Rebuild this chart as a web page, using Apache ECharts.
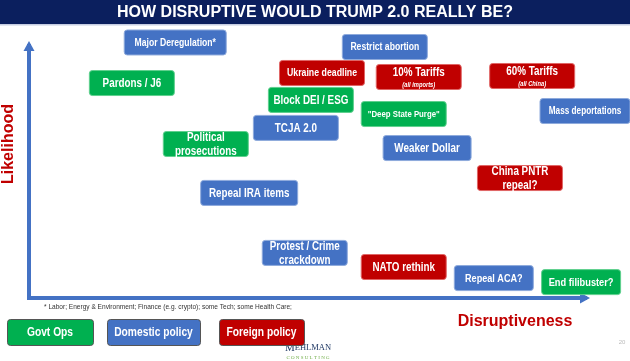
<!DOCTYPE html>
<html><head><meta charset="utf-8">
<script src="https://cdn.jsdelivr.net/npm/echarts@6/dist/echarts.min.js"></script>
<style>html,body{margin:0;padding:0;background:#fff}#c{width:630px;height:361px}</style>
</head><body><div id="c"></div>
<script>
// ---- data ----
const titleText = 'HOW DISRUPTIVE WOULD TRUMP 2.0 REALLY BE?';
const labels = ['Major Deregulation*','Pardons / J6','Ukraine deadline','Block DEI / ESG','TCJA 2.0','Political\nprosecutions','Restrict abortion','10% Tariffs','60% Tariffs','"Deep State Purge"','Mass deportations','Weaker Dollar','China PNTR\nrepeal?','Repeal IRA items','Protest / Crime\ncrackdown','NATO rethink','Repeal ACA?','End filibuster?'];
const notes = ['','','','','','','','(all imports)','(all China)','','','','','','','','',''];
const disruptiveness = [26.3,18.5,52.7,50.7,48.0,31.8,64.0,70.1,90.5,67.4,100.0,71.6,88.3,39.6,49.6,67.4,83.6,99.3];
const likelihood = [101.4,85.3,89.3,78.6,67.5,61.1,99.6,87.7,88.1,73.0,74.2,59.5,47.6,41.7,17.9,12.3,7.9,6.3];
const policyType = ['Domestic policy','Govt Ops','Foreign policy','Govt Ops','Domestic policy','Govt Ops','Domestic policy','Foreign policy','Foreign policy','Govt Ops','Domestic policy','Domestic policy','Foreign policy','Domestic policy','Domestic policy','Foreign policy','Domestic policy','Govt Ops'];
const legendItems = ['Govt Ops','Domestic policy','Foreign policy'];
const xAxisName = 'Disruptiveness';
const yAxisName = 'Likelihood';
const footnote = '* Labor; Energy & Environment; Finance (e.g. crypto); some Tech; some Health Care;';

// ---- styles ----
const COLORS = {'Govt Ops':'#00B050','Domestic policy':'#4472C4','Foreign policy':'#C00000'};
const EDGE = {'Govt Ops':'#5fd08e','Domestic policy':'#8eaadc','Foreign policy':'#e06666'};
const BOX_W = {'Major Deregulation*':102,'Repeal IRA items':97,'Weaker Dollar':88,'Mass deportations':90,'Repeal ACA?':79,'End filibuster?':79};
const FONT_SIZE = {'Major Deregulation*':10.5,'Ukraine deadline':10.7,'Restrict abortion':10.5,'Mass deportations':10,'"Deep State Purge"':9.5,'End filibuster?':11.3,'Repeal ACA?':11.1};
const SANS = "'Liberation Sans',Arial,sans-serif";
const NARROW_SCALE = 0.82;

const chart = echarts.init(document.getElementById('c'), null, {renderer:'canvas'});

const seriesData = labels.map((l,i)=>[disruptiveness[i], likelihood[i]]);

function renderItem(params, api){
  const i = params.dataIndex;
  const p = api.coord([api.value(0), api.value(1)]);
  const lab = labels[i];
  const w = BOX_W[lab] || 85, h = 25;
  const fs = FONT_SIZE[lab] || 12;
  const t = policyType[i];
  const children = [{
    type:'rect',
    shape:{x:p[0]-w/2, y:p[1]-h/2, width:w, height:h, r:3},
    style:{fill:COLORS[t], stroke:EDGE[t], lineWidth:1}
  }];
  if (notes[i]) {
    children.push({type:'text', x:p[0], y:p[1]-4, scaleX:NARROW_SCALE, style:{text:lab, fill:'#fff', fontSize:fs, fontWeight:'bold', fontFamily:SANS, align:'center', verticalAlign:'middle'}});
    children.push({type:'text', x:p[0], y:p[1]+8, scaleX:NARROW_SCALE, style:{text:notes[i], fill:'#fff', fontSize:7, fontWeight:'bold', fontStyle:'italic', fontFamily:SANS, align:'center', verticalAlign:'middle'}});
  } else {
    children.push({type:'text', x:p[0], y:p[1]+0.5, scaleX:NARROW_SCALE, style:{text:lab, fill:'#fff', fontSize:fs, fontWeight:'bold', fontFamily:SANS, align:'center', verticalAlign:'middle', lineHeight:14}});
  }
  return {type:'group', children};
}

const legendX = [7,107,219], legendW = [86,93,85];
const legendGraphics = [];
legendItems.forEach((name,k)=>{
  legendGraphics.push({type:'rect', left:legendX[k], top:319, shape:{width:legendW[k], height:26, r:3}, style:{fill:COLORS[name], stroke:'#555', lineWidth:1}, z:10});
  legendGraphics.push({type:'text', x:legendX[k]+legendW[k]/2, y:332.5, scaleX:NARROW_SCALE, style:{text:name, fill:'#fff', fontSize:12.5, fontWeight:'bold', fontFamily:SANS, align:'center', verticalAlign:'middle'}, z:11});
});

const axisLineStyle = {show:true, symbol:['none','triangle'], symbolSize:[11,10], lineStyle:{color:'#4472C4', width:4, cap:'square'}};

chart.setOption({
  animation:false,
  backgroundColor:'#fff',
  grid:{left:29, right:45, top:46, bottom:63},
  xAxis:{type:'value', min:0, max:100, splitLine:{show:false}, axisTick:{show:false}, axisLabel:{show:false}, axisLine:axisLineStyle},
  yAxis:{type:'value', min:0, max:100, splitLine:{show:false}, axisTick:{show:false}, axisLabel:{show:false}, axisLine:axisLineStyle},
  series:[{type:'custom', renderItem, data:seriesData, clip:false, z:5}],
  graphic:[
    {type:'rect', left:0, top:0, shape:{width:630, height:24}, style:{fill:'#0B1F5E'}},
    {type:'rect', left:0, top:24, shape:{width:630, height:1.5}, style:{fill:'#c6cde2'}},
    {type:'text', x:315, y:12.5, style:{text:titleText, fill:'#fff', fontSize:16, fontWeight:'bold', fontFamily:SANS, align:'center', verticalAlign:'middle'}},
    {type:'text', x:9, y:144, rotation:Math.PI/2, style:{text:yAxisName, fill:'#C00000', fontSize:16, fontWeight:'bold', fontFamily:SANS, align:'center', verticalAlign:'middle'}},
    {type:'text', x:515, y:321.5, style:{text:xAxisName, fill:'#C00000', fontSize:16, fontWeight:'bold', fontFamily:SANS, align:'center', verticalAlign:'middle'}},
    {type:'text', x:44, y:307, scaleX:NARROW_SCALE, style:{text:footnote, fill:'#333', fontSize:8, fontFamily:SANS, align:'left', verticalAlign:'middle'}},
    ...legendGraphics,
    {type:'text', x:308, y:348, style:{text:'{a|M}{b|EHLMAN}', rich:{a:{fontSize:11, fontFamily:"'Liberation Serif',serif", fill:'#1F3864'}, b:{fontSize:8.5, fontFamily:"'Liberation Serif',serif", fill:'#1F3864'}}, align:'center', verticalAlign:'middle'}},
    {type:'text', x:308, y:357.5, style:{text:'C O N S U L T I N G', fill:'#70AD47', fontSize:5, fontFamily:"'Liberation Serif',serif", align:'center', verticalAlign:'middle'}},
    {type:'text', x:622, y:342, style:{text:'20', fill:'#bbb', fontSize:6, fontFamily:SANS, align:'center', verticalAlign:'middle'}}
  ]
});
</script></body></html>
